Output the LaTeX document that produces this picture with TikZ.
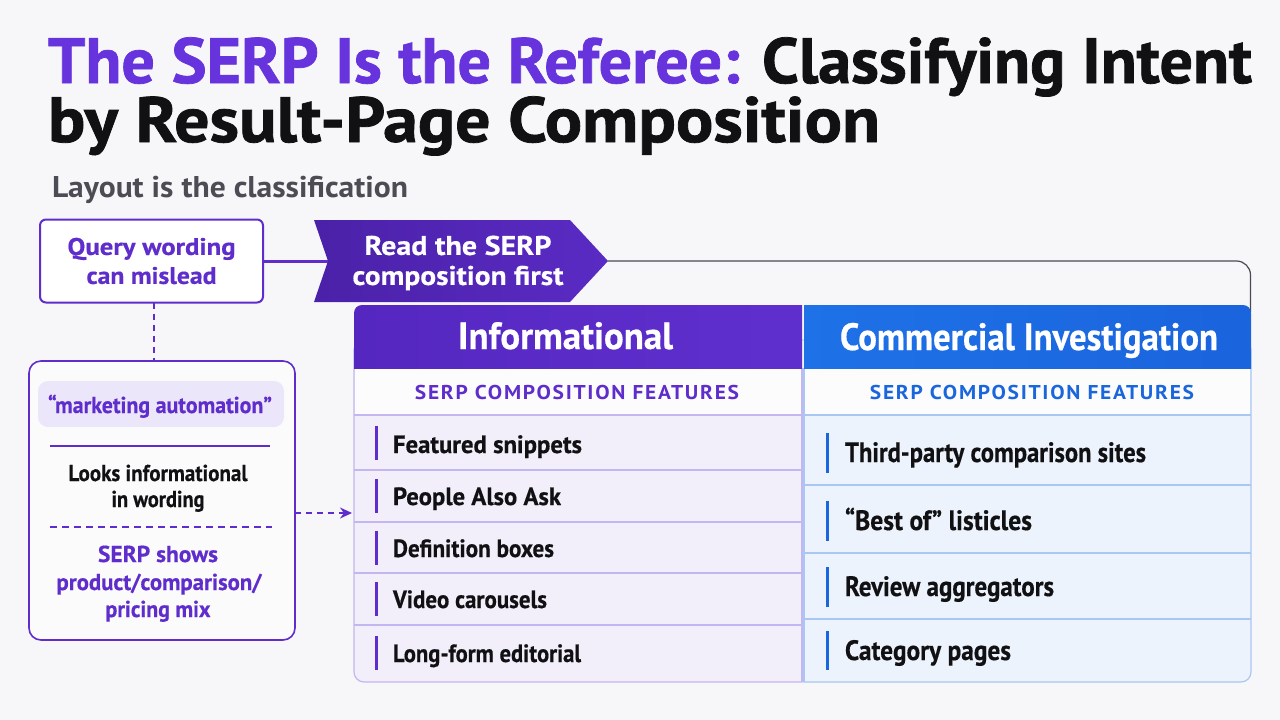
\documentclass[tikz,border=0pt]{standalone}
\usepackage{fontspec}
\setmainfont{PT Sans}
\usepackage{graphicx}
\usetikzlibrary{arrows.meta}
\definecolor{bgc}{HTML}{F7F7F9}
\definecolor{tpurple}{HTML}{6633DD}
\definecolor{ink}{HTML}{111114}
\definecolor{subgray}{HTML}{4C4C54}
\definecolor{purp}{HTML}{5E2DCC}
\definecolor{chevA}{HTML}{4B21A8}
\definecolor{chevB}{HTML}{5A2BC4}
\definecolor{hpurA}{HTML}{5527C0}
\definecolor{hpurB}{HTML}{6030CF}
\definecolor{hbluA}{HTML}{1F72E8}
\definecolor{hbluB}{HTML}{1A64DD}
\definecolor{lrow}{HTML}{F2EFFA}
\definecolor{rrow}{HTML}{EDF3FC}
\definecolor{lline}{HTML}{C4B6F0}
\definecolor{rline}{HTML}{A9C7F3}
\definecolor{bluetext}{HTML}{1A66DD}
\definecolor{pillc}{HTML}{ECE6FA}
\definecolor{framec}{HTML}{4A4A52}
\newcommand\fw[2]{\resizebox{#1pt}{\height}{#2}}
\newcommand\heavy[1]{\addfontfeature{FakeBold=#1}}
\tikzset{
  litem/.style={anchor=base west, font=\fontsize{25}{25}\selectfont\bfseries\heavy{0.5}, text=ink},
  ritem/.style={anchor=base west, font=\fontsize{28}{28}\selectfont\bfseries\heavy{0.5}, text=ink},
  lbar/.style={purp, line width=3pt},
  rbar/.style={bluetext, line width=3pt},
  subhead/.style={anchor=base, font=\fontsize{20}{20}\selectfont\bfseries\addfontfeature{LetterSpace=8}},
  headtxt/.style={anchor=base, font=\fontsize{38}{38}\selectfont\bfseries\heavy{0.5}, text=white},
  sidetxt/.style={anchor=base, font=\fontsize{23}{23}\selectfont\bfseries\heavy{0.4}},
  titletxt/.style={anchor=base west, font=\fontsize{64}{64}\selectfont\bfseries\heavy{1.2}, text=ink},
}
\begin{document}
\begin{tikzpicture}[x=1pt,y=-1pt, every node/.style={inner sep=0pt, outer sep=0pt}]
\fill[bgc] (0,0) rectangle (1280,720);
\useasboundingbox (0,0) rectangle (1280,720);

% Title
\node[titletxt] (t1) at (48,83)
  {\fw{1204}{\textcolor{tpurple}{The SERP Is the Referee:} Classifying Intent}};
\node[titletxt] (t2) at (48,142)
  {\fw{832}{by Result-Page Composition}};
\node[anchor=base west, font=\fontsize{30}{30}\selectfont\bfseries, text=subgray] (sub) at (52,197)
  {\fw{356}{Layout is the classification}};

% frame line from chevron
\coordinate (tip) at (608,261);
\coordinate (notch) at (328,261);
\coordinate (fcorner) at (1250.5,261);
\coordinate (fend) at (1250.5,312);
\draw[framec, line width=1.2pt, rounded corners=14pt] (tip) -- (fcorner) -- (fend);

% Query box
\node[draw=purp, line width=2pt, rounded corners=6pt, fill=white, minimum width=223pt, minimum height=83pt,
  font=\fontsize{24}{29}\selectfont\bfseries\heavy{0.4}, text=purp, align=center] (query) at (151.5,261)
  {\fw{168}{Query wording}\\\fw{130}{can mislead}};

% Chevron
\shade[left color=chevA, right color=chevB] (314,220) -- (570,220) -- (tip) -- (570,302) -- (314,302) -- (notch) -- cycle;
\node[font=\fontsize{27}{30}\selectfont\bfseries\heavy{0.4}, text=white, align=center] (chev) at (458,263)
  {\fw{187}{Read the SERP}\\\fw{211}{composition first}};
\draw[purp, line width=3pt] (query.east |- notch) -- (notch);

% Left panel
\begin{scope}
\clip (0,0) rectangle (802.6,720);
\draw[fill=lrow, draw=lline, line width=1.2pt, rounded corners=10pt] (354,340) rectangle (830,682);
\end{scope}
\fill[white!60!bgc] (354.6,368) rectangle (801.4,415);
\foreach \yy in {415,470,522,573,625} \draw[lline, line width=1.1pt] (354,\yy) -- (802,\yy);
\draw[lline, line width=1.2pt] (802,368) -- (802,682);
\begin{scope}
\clip (0,0) rectangle (802,368);
\shade[left color=hpurA, right color=hpurB, rounded corners=8pt] (354,305) rectangle (830,400);
\end{scope}

% Right panel
\begin{scope}
\clip (803.4,0) rectangle (1280,720);
\draw[fill=rrow, draw=rline, line width=1.2pt, rounded corners=10pt] (770,340) rectangle (1251,682);
\end{scope}
\fill[white!60!bgc] (804.6,368) rectangle (1250.4,415);
\foreach \yy in {415,485,553,619} \draw[rline, line width=1.1pt] (804,\yy) -- (1251,\yy);
\draw[rline, line width=1.2pt] (804,368) -- (804,682);
\begin{scope}
\clip (804,0) rectangle (1280,368);
\shade[left color=hbluA, right color=hbluB, rounded corners=8pt] (770,305) rectangle (1251,400);
\end{scope}

% Headers
\node[headtxt] (hinfo) at (565.5,349) {\fw{215}{Informational}};
\node[headtxt] (hcomm) at (1029,350) {\fw{378}{Commercial Investigation}};
\node[subhead, text=purp] (sinfo) at (577,399) {\fw{324}{SERP COMPOSITION FEATURES}};
\node[subhead, text=bluetext] (scomm) at (1032,399) {\fw{324}{SERP COMPOSITION FEATURES}};

% Left items
\draw[lbar] (376,426) -- (376,460);
\node[litem] (l1) at (393,453) {\fw{189}{Featured snippets}};
\draw[lbar] (376,479) -- (376,513);
\node[litem] (l2) at (393,505) {\fw{168}{People Also Ask}};
\draw[lbar] (376,531) -- (376,565);
\node[litem] (l3) at (393,557) {\fw{161}{Definition boxes}};
\draw[lbar] (376,582) -- (376,616);
\node[litem] (l4) at (393,608) {\fw{154}{Video carousels}};
\draw[lbar] (376,636) -- (376,670);
\node[litem] (l5) at (393,662) {\fw{188}{Long-form editorial}};

% Right items
\draw[rbar] (827,433) -- (827,473);
\node[ritem] (r1) at (845,462) {\fw{301}{Third-party comparison sites}};
\draw[rbar] (827,501) -- (827,541);
\node[ritem] (r2) at (845,530) {\fw{187}{“Best of” listicles}};
\draw[rbar] (827,567) -- (827,607);
\node[ritem] (r3) at (845,596) {\fw{209}{Review aggregators}};
\draw[rbar] (827,631) -- (827,670);
\node[ritem] (r4) at (845,660) {\fw{166}{Category pages}};

% Side box
\node[draw=purp, line width=1.6pt, rounded corners=12pt, fill=white!50!bgc, minimum width=266pt, minimum height=279pt] (side) at (162,500.5) {};
\node[fill=pillc, rounded corners=10pt, minimum width=246pt, minimum height=46pt] (pill) at (161,404) {};
\node[sidetxt, text=purp] (ptext) at (160,413) {\fw{224}{“marketing automation”}};
\coordinate (s1a) at (50,446);
\coordinate (s1b) at (270,446);
\draw[purp, line width=1.3pt] (s1a) -- (s1b);
\node[sidetxt, text=ink] (looks) at (158,481) {\fw{179}{Looks informational}};
\node[sidetxt, text=ink] (looks2) at (158,507) {\fw{93}{in wording}};
\coordinate (s2a) at (50,527);
\coordinate (s2b) at (272,527);
\draw[purp, line width=1.3pt, dash pattern=on 7pt off 5pt] (s2a) -- (s2b);
\node[sidetxt, text=purp] (serp1) at (158,562) {\fw{120}{SERP shows}};
\node[sidetxt, text=purp] (serp2) at (159,590) {\fw{205}{product/comparison/}};
\node[sidetxt, text=purp] (serp3) at (158,617) {\fw{105}{pricing mix}};

% Connectors
\draw[purp, line width=1.6pt, dash pattern=on 6pt off 5pt] (query.south -| 154,0) -- (side.north -| 154,0);
\coordinate (tabin) at (352,513);
\draw[purp, line width=1.6pt, dash pattern=on 6pt off 5pt, -{Stealth[length=12pt,width=11pt]}] (side.east |- tabin) -- (tabin);
\end{tikzpicture}
\end{document}
